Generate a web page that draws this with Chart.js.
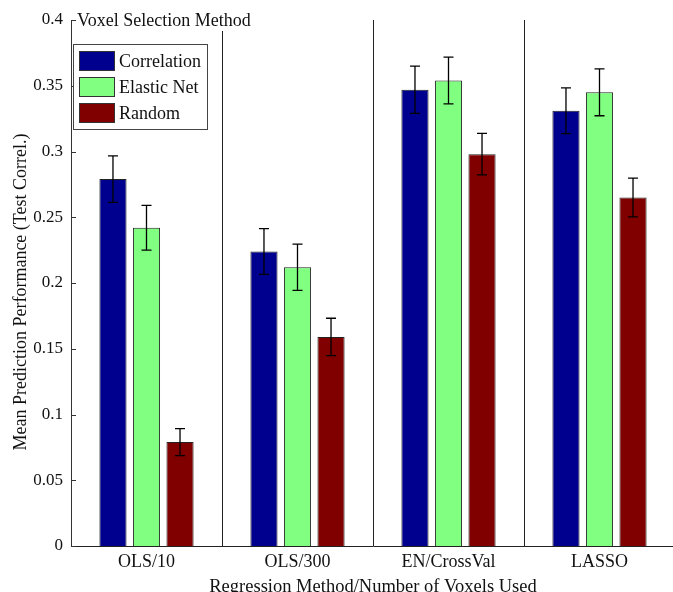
<!DOCTYPE html>
<html>
<head>
<meta charset="utf-8">
<script src="https://cdn.jsdelivr.net/npm/chart.js@4"></script>
<style>
  html, body { margin: 0; padding: 0; background: #fff; overflow: hidden; }
  #wrap { width: 673px; height: 592px; overflow: hidden; }
</style>
</head>
<body>
<div id="wrap"><canvas id="chart" width="676" height="600"></canvas></div>
<script>
// Data
const categories = ['OLS/10', 'OLS/300', 'EN/CrossVal', 'LASSO'];
const seriesNames = ['Correlation', 'Elastic Net', 'Random'];
const correlation = [0.279, 0.224, 0.347, 0.331];
const correlationErr = [0.0177, 0.0174, 0.018, 0.0174];
const elasticNet = [0.242, 0.212, 0.354, 0.345];
const elasticNetErr = [0.017, 0.0176, 0.0178, 0.0178];
const random = [0.079, 0.159, 0.298, 0.265];
const randomErr = [0.0102, 0.0142, 0.0158, 0.0147];
const yTickLabels = ['0', '0.05', '0.1', '0.15', '0.2', '0.25', '0.3', '0.35', '0.4'];
const yTitle = 'Mean Prediction Performance (Test Correl.)';

const colors = ['rgb(0, 0, 143)', 'rgb(128, 255, 128)', 'rgb(128, 0, 0)'];
const serif = 'Liberation Serif';

Chart.defaults.font.family = serif;
Chart.defaults.font.size = 18;
Chart.defaults.color = '#111';

// error bars, inside ticks, titles and legend box
const extras = {
  id: 'extras',
  afterDatasetsDraw(chart) {
    const ctx = chart.ctx;
    const y = chart.scales.y;
    ctx.save();
    ctx.strokeStyle = '#000';
    ctx.lineWidth = 1.3;
    chart.data.datasets.forEach((ds, i) => {
      chart.getDatasetMeta(i).data.forEach((bar, j) => {
        const v = ds.data[j], e = ds.errors[j];
        const top = y.getPixelForValue(v + e);
        const bot = y.getPixelForValue(v - e);
        ctx.beginPath();
        ctx.moveTo(bar.x, top); ctx.lineTo(bar.x, bot);
        ctx.moveTo(bar.x - 5, top); ctx.lineTo(bar.x + 5, top);
        ctx.moveTo(bar.x - 5, bot); ctx.lineTo(bar.x + 5, bot);
        ctx.stroke();
      });
    });
    ctx.restore();
  },
  afterDraw(chart) {
    const ctx = chart.ctx;
    const area = chart.chartArea;
    const y = chart.scales.y;
    ctx.save();

    // y axis title, a bit below the area centre like the original
    ctx.save();
    ctx.translate(21, 292);
    ctx.rotate(-Math.PI / 2);
    ctx.font = '18px ' + serif;
    ctx.fillStyle = '#111';
    ctx.textAlign = 'center';
    ctx.textBaseline = 'middle';
    ctx.fillText(yTitle, 0, 0);
    ctx.restore();

    // legend title with white backing
    ctx.fillStyle = '#fff';
    ctx.fillRect(area.left + 3, 0, 188, 31);
    ctx.fillStyle = '#111';
    ctx.font = '18px ' + serif;
    ctx.textBaseline = 'alphabetic';
    ctx.fillText('Voxel Selection Method', area.left + 6, 26);

    // inward y ticks
    ctx.strokeStyle = '#333';
    ctx.lineWidth = 1;
    y.ticks.forEach(t => {
      const py = Math.round(y.getPixelForValue(t.value)) + 0.5;
      ctx.beginPath();
      ctx.moveTo(area.left, py); ctx.lineTo(area.left + 5, py);
      ctx.stroke();
    });

    // legend box
    const lx = area.left + 2, ly = 44;
    ctx.fillStyle = '#fff';
    ctx.fillRect(lx, ly, 134, 85);
    ctx.strokeStyle = '#444';
    ctx.strokeRect(lx + 0.5, ly + 0.5, 134, 85);
    ctx.textBaseline = 'middle';
    chart.data.datasets.forEach((ds, i) => {
      const cy = 61 + i * 26;
      ctx.fillStyle = ds.backgroundColor;
      ctx.fillRect(lx + 6, cy - 10, 36, 20);
      ctx.strokeStyle = '#333';
      ctx.strokeRect(lx + 6.5, cy - 9.5, 35, 19);
      ctx.fillStyle = '#111';
      ctx.fillText(ds.label, lx + 46, cy + 1);
    });
    ctx.restore();
  }
};

new Chart(document.getElementById('chart'), {
  type: 'bar',
  data: {
    labels: categories,
    datasets: [
      { label: seriesNames[0], data: correlation, errors: correlationErr, backgroundColor: colors[0] },
      { label: seriesNames[1], data: elasticNet, errors: elasticNetErr, backgroundColor: colors[1] },
      { label: seriesNames[2], data: random, errors: randomErr, backgroundColor: colors[2] },
    ].map(d => Object.assign(d, {
      borderColor: '#222',
      borderWidth: 1,
      categoryPercentage: 0.666,
      barPercentage: 0.81,
    })),
  },
  options: {
    responsive: false,
    animation: false,
    devicePixelRatio: 1,
    layout: { padding: { top: 20, right: 1, left: 0, bottom: 0 } },
    plugins: {
      legend: { display: false },
      tooltip: { enabled: false },
    },
    scales: {
      x: {
        grid: { color: '#222', lineWidth: 1, drawTicks: false, offset: true },
        border: { color: '#222' },
        ticks: { padding: 5, font: { size: 18 } },
        title: {
          display: true,
          text: 'Regression Method/Number of Voxels Used',
          font: { size: 18.5 },
          padding: { top: 0, bottom: 2 },
        },
        afterFit: (s) => { s.height = 54; },
      },
      y: {
        min: 0,
        max: 0.4,
        grid: { display: false, drawTicks: false },
        border: { color: '#333' },
        ticks: {
          stepSize: 0.05,
          padding: 8,
          font: { size: 17 },
          callback: (v, i) => yTickLabels[i],
        },
        afterFit: (s) => { s.width = 71; },
      },
    },
  },
  plugins: [extras],
});
</script>
</body>
</html>
